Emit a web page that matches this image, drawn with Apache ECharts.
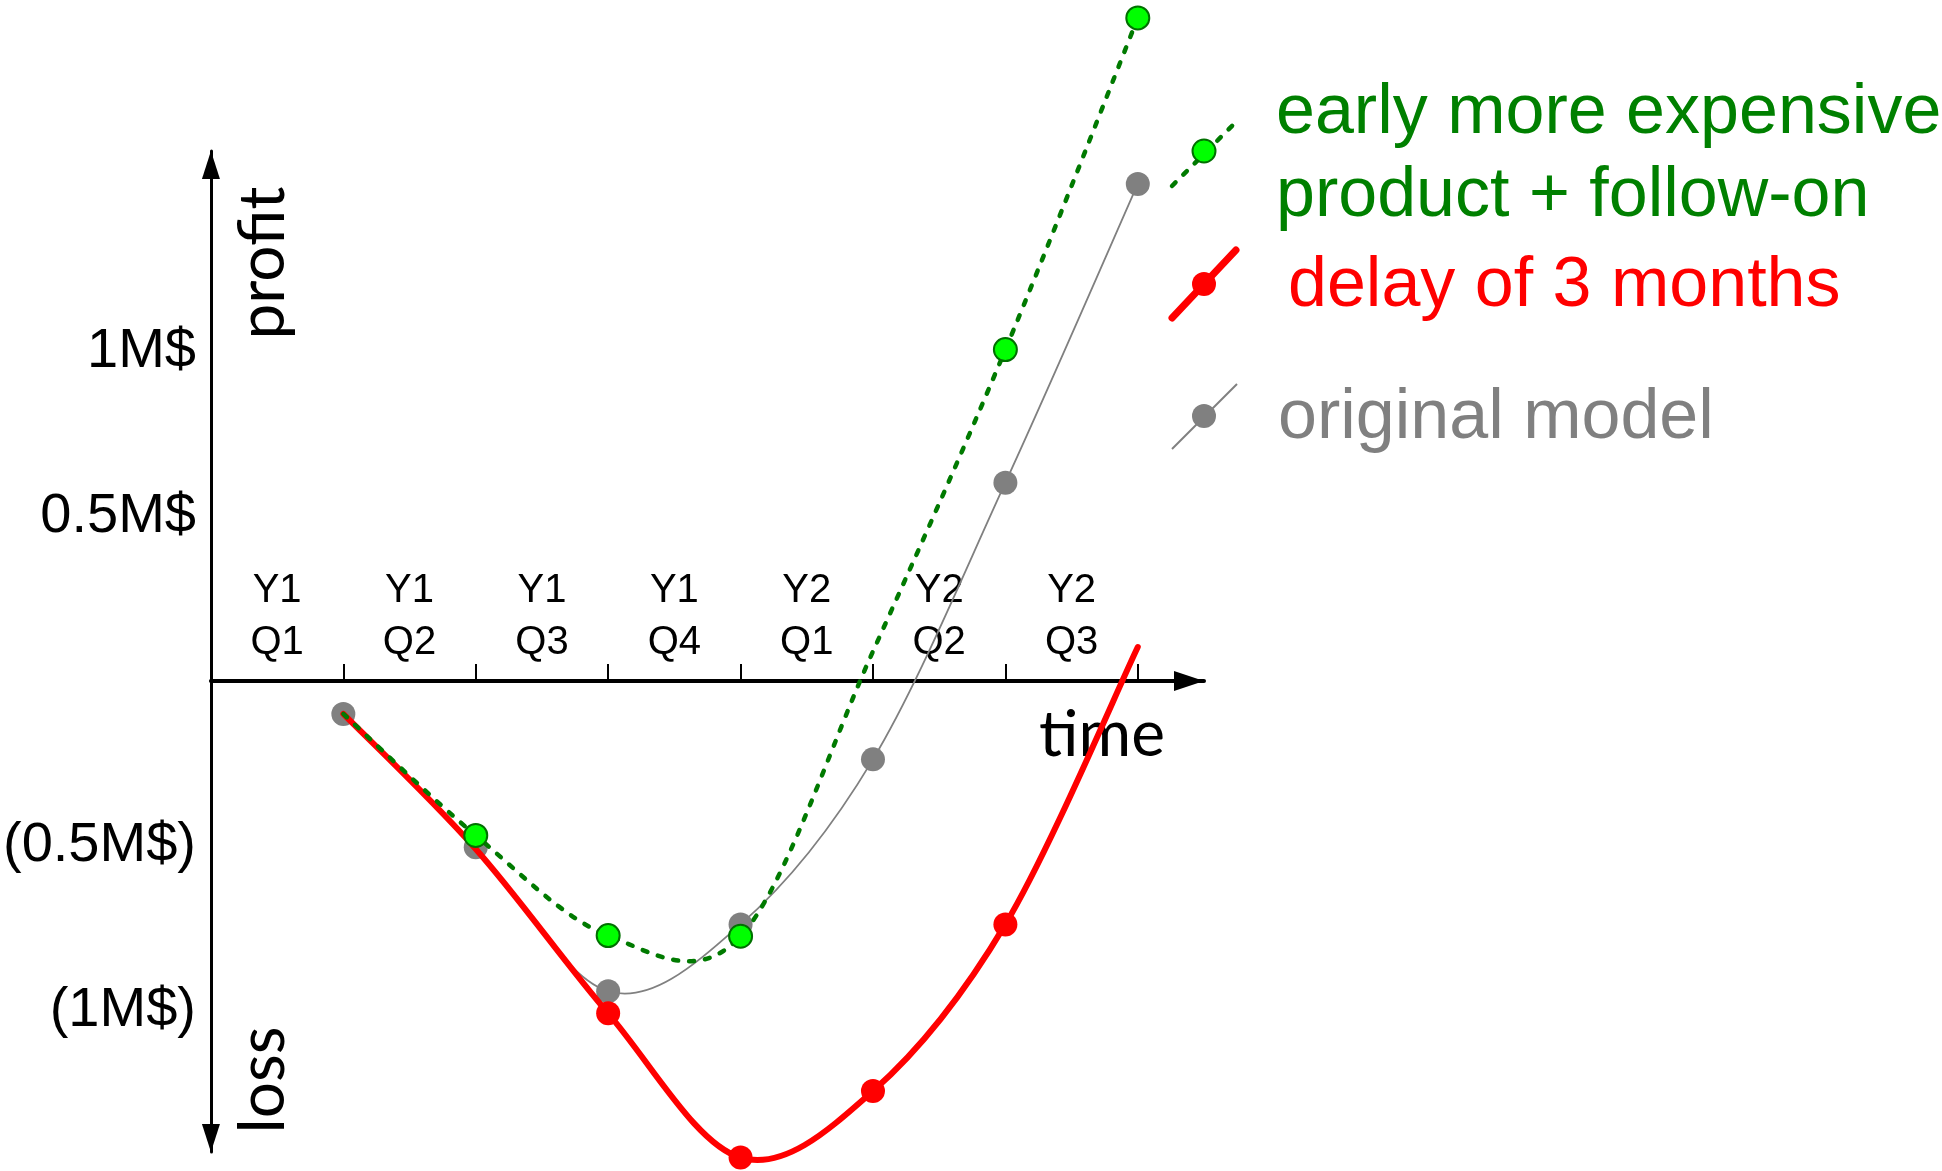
<!DOCTYPE html>
<html>
<head>
<meta charset="utf-8">
<script src="https://cdn.jsdelivr.net/npm/echarts@6/dist/echarts.min.js"></script>
<style>
html, body { margin: 0; padding: 0; background: #ffffff; }
#chart { width: 1942px; height: 1171px; }
</style>
</head>
<body>
<div id="chart"></div>
<script>
// ---- data ----
const quarterLabels = ['Y1\nQ1', 'Y1\nQ2', 'Y1\nQ3', 'Y1\nQ4', 'Y2\nQ1', 'Y2\nQ2', 'Y2\nQ3'];
const quarterLabelPos = [0.5, 1.5, 2.5, 3.5, 4.5, 5.5, 6.5];
const periodEnds = [1, 2, 3, 4, 5, 6, 7];
const yTickValues = [-1, -0.5, 0.5, 1];
const yTickLabels = ['(1M$)', '(0.5M$)', '0.5M$', '1M$'];

const originalModel = [-0.10, -0.505, -0.942, -0.739, -0.238, 0.602, 1.509];
const originalMarkers = [true, true, true, true, true, true, true];

const earlyProduct = [-0.10, -0.469, -0.773, -0.775, 0.09, 1.006, 2.013];
const earlyMarkers = [false, true, true, true, false, true, true];

const delay3Months = [-0.10, -0.51, -1.009, -1.447, -1.245, -0.739, 0.103];
const delayMarkers = [false, false, true, true, true, true, false];

const seriesNames = ['early more expensive\nproduct + follow-on', 'delay of 3 months', 'original model'];

// ---- layout constants ----
const GRID = { left: 210.5, right: 738, top: 151, bottom: 19 };
const Y_MIN = -1.43, Y_MAX = 1.609;
const CHART_H = 1171;
const plotH = CHART_H - GRID.top - GRID.bottom;
const zeroOffset = plotH * (0 - Y_MIN) / (Y_MAX - Y_MIN); // distance of y=0 above grid bottom

function pairs(values) {
  return periodEnds.map(function (x, i) { return [x, values[i]]; });
}
function markerData(values, markers) {
  return periodEnds.map(function (x, i) {
    return markers[i] ? { value: [x, values[i]] } : { value: [x, values[i]], symbol: 'none' };
  });
}

// smooth curve (Catmull-Rom through the data points, via the cartesian scales)
function curveSeries(name, values, lineStyle, z) {
  return {
    name: name,
    type: 'custom',
    coordinateSystem: 'cartesian2d',
    clip: false,
    silent: true,
    z: z,
    data: pairs(values),
    encode: { x: 0, y: 1 },
    renderItem: function (params, api) {
      if (params.dataIndexInside !== 0) return null;
      const n = params.dataInsideLength;
      const p = [];
      for (let i = 0; i < n; i++) {
        p.push(api.coord([api.value(0, i), api.value(1, i)]));
      }
      let d = 'M' + p[0][0] + ' ' + p[0][1];
      for (let i = 0; i < n - 1; i++) {
        const p0 = p[Math.max(i - 1, 0)], p1 = p[i], p2 = p[i + 1], p3 = p[Math.min(i + 2, n - 1)];
        const c1x = p1[0] + (p2[0] - p0[0]) / 6, c1y = p1[1] + (p2[1] - p0[1]) / 6;
        const c2x = p2[0] - (p3[0] - p1[0]) / 6, c2y = p2[1] - (p3[1] - p1[1]) / 6;
        d += ' C' + c1x + ' ' + c1y + ' ' + c2x + ' ' + c2y + ' ' + p2[0] + ' ' + p2[1];
      }
      return {
        type: 'path',
        shape: { pathData: d },
        style: Object.assign({ fill: 'none' }, lineStyle)
      };
    }
  };
}

function markerSeries(name, values, markers, size, itemStyle, z) {
  return {
    name: name,
    type: 'scatter',
    clip: false,
    silent: true,
    z: z,
    symbol: 'circle',
    symbolSize: size,
    data: markerData(values, markers),
    itemStyle: Object.assign({ opacity: 1 }, itemStyle)
  };
}

const chart = echarts.init(document.getElementById('chart'), null, { renderer: 'canvas' });

const LABEL_FONT = '"Liberation Sans", Arial, sans-serif';
const TITLE_FONT = 'Lato, "Open Sans", sans-serif';

const option = {
  animation: false,
  backgroundColor: '#ffffff',
  grid: { left: GRID.left, right: GRID.right, top: GRID.top, bottom: GRID.bottom, containLabel: false },
  xAxis: {
    type: 'value',
    min: 0,
    max: 7.5,
    position: 'bottom',
    offset: -zeroOffset,
    splitLine: { show: false },
    axisLine: {
      show: true,
      onZero: false,
      lineStyle: { color: '#000000', width: 4 },
      symbol: ['none', 'triangle'],
      symbolSize: [20, 30],
      symbolOffset: [0, -15]
    },
    axisTick: {
      show: true,
      inside: true,
      length: 17,
      customValues: periodEnds,
      lineStyle: { color: '#000000', width: 2 }
    },
    axisLabel: {
      show: true,
      inside: true,
      margin: 12,
      customValues: quarterLabelPos,
      formatter: function (v) { return quarterLabels[Math.floor(v)]; },
      color: '#000000',
      fontFamily: LABEL_FONT,
      fontSize: 40,
      lineHeight: 52
    }
  },
  yAxis: {
    type: 'value',
    min: Y_MIN,
    max: Y_MAX,
    splitLine: { show: false },
    axisLine: {
      show: true,
      onZero: false,
      lineStyle: { color: '#000000', width: 3 },
      symbol: ['triangle', 'triangle'],
      symbolSize: [18, 28],
      symbolOffset: [14, -14]
    },
    axisTick: { show: false },
    axisLabel: {
      show: true,
      margin: 15,
      customValues: yTickValues,
      formatter: function (v) {
        const i = yTickValues.indexOf(Math.round(v * 100) / 100);
        return i >= 0 ? yTickLabels[i] : '';
      },
      color: '#000000',
      fontFamily: LABEL_FONT,
      fontSize: 56
    }
  },
  series: [
    curveSeries(seriesNames[2], originalModel, { stroke: '#808080', lineWidth: 1.8 }, 2),
    markerSeries(seriesNames[2], originalModel, originalMarkers, 24, { color: '#808080' }, 3),
    curveSeries(seriesNames[1], delay3Months, { stroke: '#ff0000', lineWidth: 6, lineCap: 'round', lineJoin: 'round' }, 4),
    markerSeries(seriesNames[1], delay3Months, delayMarkers, 24, { color: '#ff0000' }, 5),
    curveSeries(seriesNames[0], earlyProduct, { stroke: '#007a00', lineWidth: 4.5, lineDash: [5, 11], lineCap: 'round' }, 6),
    markerSeries(seriesNames[0], earlyProduct, earlyMarkers, 23, { color: '#00ff00', borderColor: '#007000', borderWidth: 2 }, 7)
  ],
  graphic: [
    // axis titles
    { type: 'text', x: 263, y: 263, rotation: Math.PI / 2,
      style: { text: 'profit', font: '64px ' + TITLE_FONT, fill: '#000000', align: 'center', verticalAlign: 'middle' } },
    { type: 'text', x: 263, y: 1080, rotation: Math.PI / 2,
      style: { text: 'loss', font: '64px ' + TITLE_FONT, fill: '#000000', align: 'center', verticalAlign: 'middle' } },
    { type: 'text', x: 1102, y: 735,
      style: { text: 'time', font: '64px ' + TITLE_FONT, fill: '#000000', align: 'center', verticalAlign: 'middle' } },
    // legend: early more expensive product
    { type: 'line', shape: { x1: 1172, y1: 186, x2: 1238, y2: 120 },
      style: { stroke: '#007a00', lineWidth: 4.5, lineDash: [5, 11], lineCap: 'round' } },
    { type: 'circle', shape: { cx: 1204, cy: 151, r: 11.5 },
      style: { fill: '#00ff00', stroke: '#007000', lineWidth: 2 } },
    { type: 'text', x: 1276, y: 155,
      style: { text: seriesNames[0], font: '70px ' + LABEL_FONT, lineHeight: 83, fill: '#008000', align: 'left', verticalAlign: 'middle' } },
    // legend: delay
    { type: 'line', shape: { x1: 1172, y1: 318, x2: 1236, y2: 250 },
      style: { stroke: '#ff0000', lineWidth: 7, lineCap: 'round' } },
    { type: 'circle', shape: { cx: 1204, cy: 284, r: 12 },
      style: { fill: '#ff0000' } },
    { type: 'text', x: 1288, y: 287,
      style: { text: seriesNames[1], font: '70px ' + LABEL_FONT, fill: '#ff0000', align: 'left', verticalAlign: 'middle' } },
    // legend: original
    { type: 'line', shape: { x1: 1172, y1: 449, x2: 1237, y2: 384 },
      style: { stroke: '#808080', lineWidth: 2 } },
    { type: 'circle', shape: { cx: 1204, cy: 416, r: 12 },
      style: { fill: '#808080' } },
    { type: 'text', x: 1278, y: 419,
      style: { text: seriesNames[2], font: '70px ' + LABEL_FONT, fill: '#808080', align: 'left', verticalAlign: 'middle' } }
  ]
};

chart.setOption(option);
</script>
</body>
</html>
